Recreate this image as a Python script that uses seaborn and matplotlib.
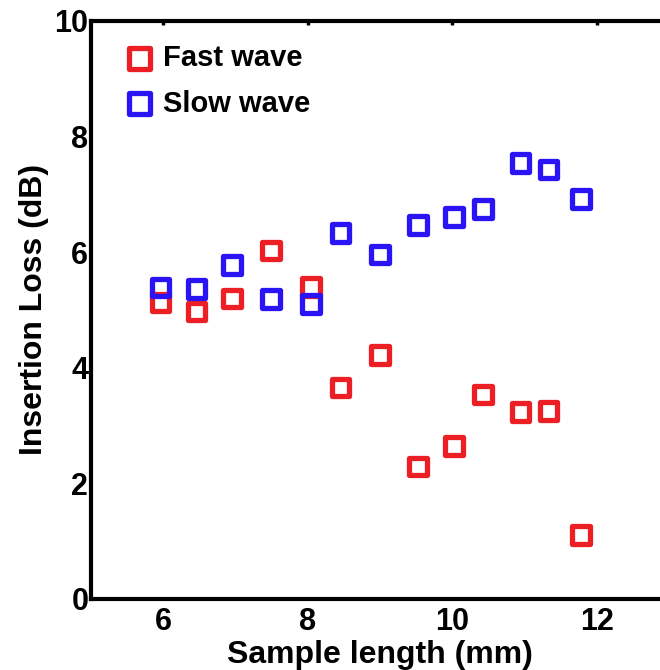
import numpy as np
import pandas as pd
import seaborn as sns
import matplotlib.pyplot as plt

# sample lengths (mm)
length = [5.96, 6.46, 6.95, 7.49, 8.04, 8.45, 9.0, 9.52, 10.02, 10.42, 10.94, 11.33, 11.78]
fast_loss = [5.13, 4.97, 5.20, 6.03, 5.40, 3.66, 4.22, 2.29, 2.65, 3.54, 3.23, 3.25, 1.11]
slow_loss = [5.39, 5.36, 5.78, 5.19, 5.10, 6.33, 5.96, 6.47, 6.61, 6.74, 7.54, 7.43, 6.92]
series = ["Fast wave", "Slow wave"]
colors = {"Fast wave": "#ec1f24", "Slow wave": "#2a14f5"}

df = pd.DataFrame({
    "length": length * 2,
    "loss": fast_loss + slow_loss,
    "wave": [series[0]] * len(length) + [series[1]] * len(length),
})

sns.set_style("white")
plt.rcParams["font.family"] = ["Liberation Sans", "DejaVu Sans"]
plt.rcParams["font.weight"] = "bold"
plt.rcParams["text.color"] = "black"
plt.rcParams["axes.labelcolor"] = "black"
plt.rcParams["xtick.color"] = "black"
plt.rcParams["ytick.color"] = "black"

fig = plt.figure(figsize=(6.6, 6.7), dpi=100)
ax = fig.add_axes([0.138, 0.106, 0.876, 0.863])

for name in series:
    sns.scatterplot(data=df[df.wave == name], x="length", y="loss", marker="s",
                    s=160, linewidth=3.8, color=colors[name], label=name, ax=ax,
                    zorder=3)

# open squares
for coll in ax.collections:
    fc = coll.get_facecolors()
    coll.set_edgecolors(fc)
    coll.set_facecolors("none")

ax.set_xlim(5, 13)
ax.set_ylim(0, 10)
ax.set_xticks([6, 8, 10, 12])
ax.set_yticks([0, 2, 4, 6, 8, 10])
ax.tick_params(axis="both", direction="in", length=3, width=2.5, labelsize=22,
               top=True, right=True, labelcolor="black")
ax.tick_params(axis="y", pad=2)
ax.tick_params(axis="x", pad=6)
for lab in ax.get_xticklabels() + ax.get_yticklabels():
    lab.set_fontweight("bold")
for sp in ax.spines.values():
    sp.set_linewidth(3)
    sp.set_color("black")

ax.set_xlabel("Sample length (mm)", fontsize=23, fontweight="bold", labelpad=2)
ax.set_ylabel("Insertion Loss (dB)", fontsize=23, fontweight="bold", labelpad=4)

ax.legend(loc="upper left", frameon=False, fontsize=21, markerscale=1.2,
          handletextpad=0.3, labelspacing=0.6, borderaxespad=0.1,
          bbox_to_anchor=(0.034, 0.985), handlelength=1.0)

fig.savefig("out.png", dpi=100)
